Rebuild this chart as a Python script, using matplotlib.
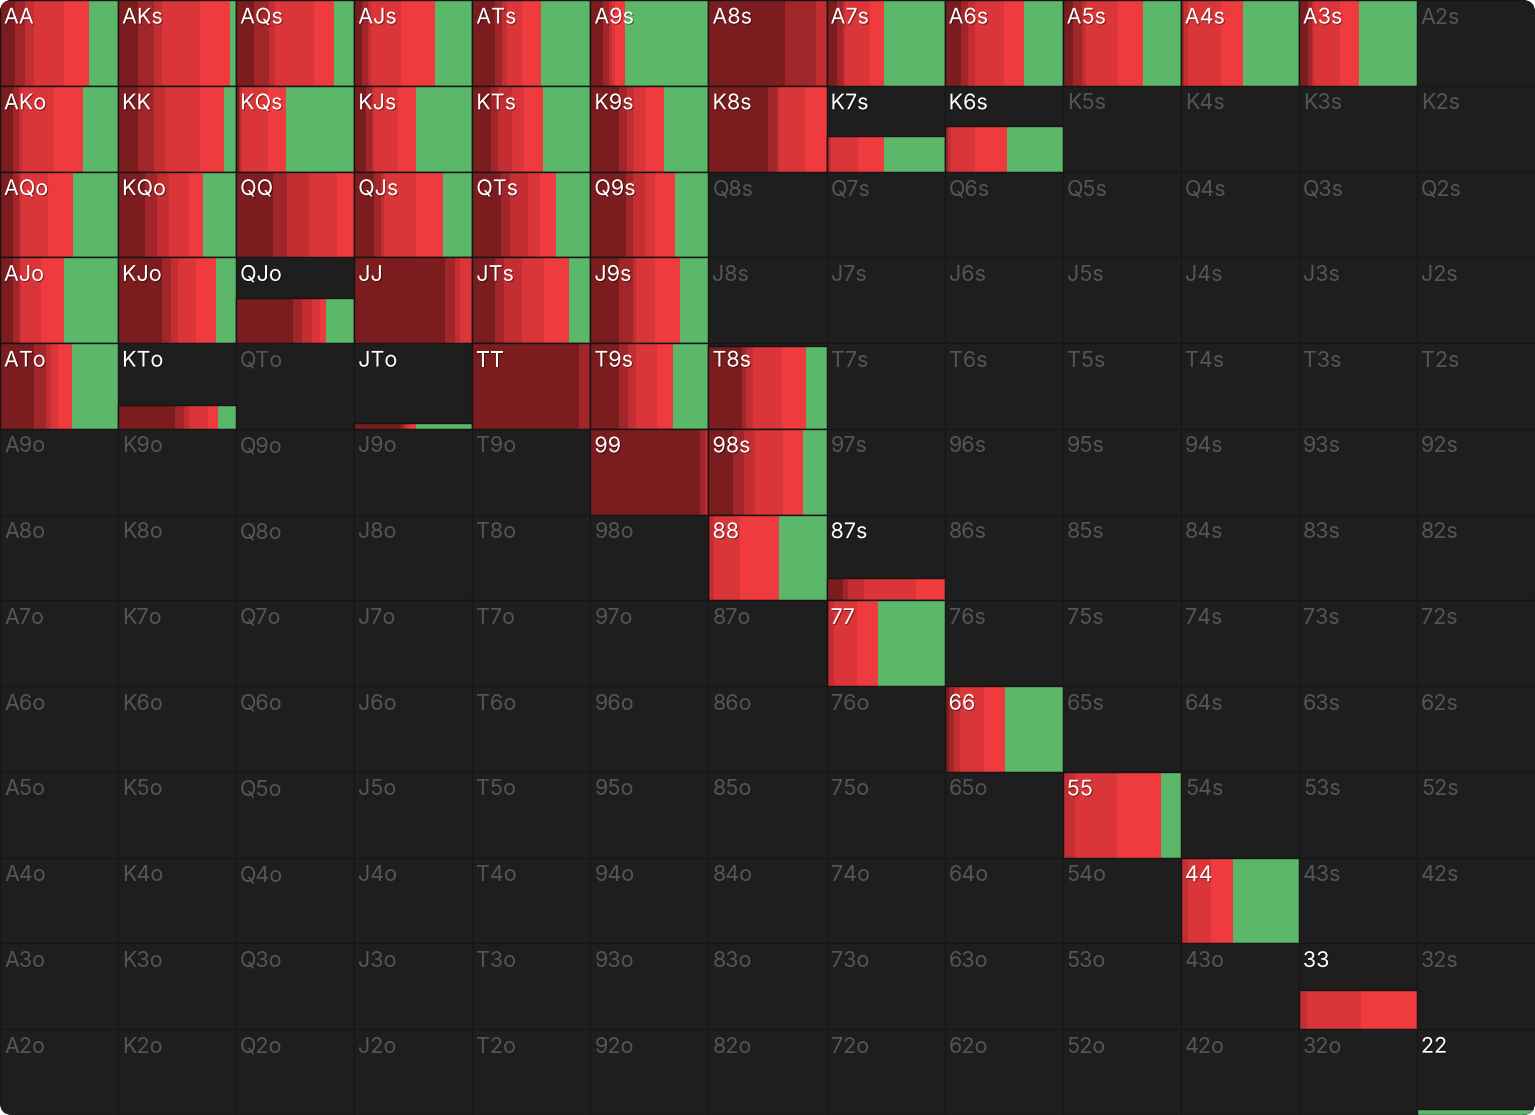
import numpy as np
import matplotlib.pyplot as plt
from matplotlib.patches import Rectangle, FancyBboxPatch
import matplotlib.patheffects as pe

# rangos
ranks = "AKQJT98765432"

# manos jugadas, frecuencia (altura) y reparto de acciones (izq -> der)
hands = ["AA", "AKs", "AQs", "AJs", "ATs", "A9s", "A8s", "A7s", "A6s", "A5s", "A4s", "A3s",
         "AKo", "KK", "KQs", "KJs", "KTs", "K9s", "K8s", "K7s", "K6s",
         "AQo", "KQo", "QQ", "QJs", "QTs", "Q9s",
         "AJo", "KJo", "QJo", "JJ", "JTs", "J9s",
         "ATo", "KTo", "JTo", "TT", "T9s", "T8s",
         "99", "98s", "88", "87s", "77", "66", "55", "44", "33", "22"]
freq = [1, 1, 1, 1, 1, 1, 1, 1, 1, 1, 1, 1,
        1, 1, 1, 1, 1, 1, 1, 0.41, 0.53,
        1, 1, 1, 1, 1, 1,
        1, 1, 0.53, 1, 1, 1,
        1, 0.28, 0.07, 1, 1, 0.97,
        1, 1, 1, 0.26, 1, 1, 1, 1, 0.46, 0.07]
allin = [0.13, 0.17, 0.15, 0.07, 0.19, 0.11, 0.65, 0.09, 0.14, 0.09, 0.01, 0.08,
         0.11, 0.17, 0.02, 0.10, 0.16, 0.24, 0.50, 0.00, 0.01,
         0.11, 0.23, 0.31, 0.17, 0.24, 0.30,
         0.11, 0.37, 0.48, 0.77, 0.19, 0.24,
         0.29, 0.48, 0.40, 0.90, 0.24, 0.28,
         0.93, 0.21, 0.00, 0.14, 0.00, 0.04, 0.00, 0.00, 0.00, 0.00]
raise4 = [0.08, 0.13, 0.13, 0.05, 0.06, 0.05, 0.26, 0.05, 0.06, 0.07, 0.02, 0.03,
          0.05, 0.13, 0.01, 0.05, 0.06, 0.07, 0.08, 0.02, 0.02,
          0.05, 0.10, 0.12, 0.06, 0.08, 0.06,
          0.05, 0.08, 0.08, 0.08, 0.08, 0.12,
          0.10, 0.08, 0.02, 0.10, 0.08, 0.04,
          0.04, 0.09, 0.01, 0.04, 0.02, 0.04, 0.01, 0.01, 0.00, 0.00]
raise3 = [0.08, 0.07, 0.05, 0.02, 0.04, 0.02, 0.09, 0.02, 0.06, 0.04, 0.03, 0.02,
          0.03, 0.10, 0.02, 0.02, 0.12, 0.06, 0.02, 0.02, 0.02,
          0.02, 0.10, 0.19, 0.02, 0.15, 0.10,
          0.02, 0.06, 0.08, 0.05, 0.15, 0.03,
          0.04, 0.04, 0.03, 0.00, 0.07, 0.06,
          0.03, 0.09, 0.04, 0.14, 0.04, 0.05, 0.09, 0.05, 0.07, 0.00]
raise2 = [0.25, 0.32, 0.33, 0.26, 0.13, 0.03, 0.00, 0.21, 0.24, 0.27, 0.28, 0.22,
          0.27, 0.29, 0.22, 0.20, 0.10, 0.10, 0.22, 0.23, 0.21,
          0.23, 0.17, 0.23, 0.27, 0.10, 0.09,
          0.17, 0.15, 0.07, 0.10, 0.19, 0.16,
          0.06, 0.16, 0.02, 0.00, 0.17, 0.24,
          0.00, 0.24, 0.22, 0.44, 0.20, 0.20, 0.36, 0.20, 0.46, 0.00]
raise1 = [0.21, 0.26, 0.17, 0.28, 0.16, 0.08, 0.00, 0.12, 0.17, 0.21, 0.19, 0.16,
          0.24, 0.21, 0.15, 0.15, 0.16, 0.15, 0.18, 0.22, 0.27,
          0.21, 0.12, 0.15, 0.23, 0.14, 0.17,
          0.19, 0.17, 0.05, 0.00, 0.21, 0.21,
          0.12, 0.09, 0.05, 0.00, 0.14, 0.21,
          0.00, 0.17, 0.33, 0.24, 0.18, 0.18, 0.37, 0.18, 0.47, 0.00]
call = [0.25, 0.05, 0.17, 0.32, 0.42, 0.71, 0.00, 0.51, 0.33, 0.32, 0.47, 0.49,
        0.30, 0.10, 0.58, 0.48, 0.40, 0.38, 0.00, 0.51, 0.47,
        0.38, 0.28, 0.00, 0.25, 0.29, 0.28,
        0.46, 0.17, 0.24, 0.00, 0.18, 0.24,
        0.39, 0.15, 0.48, 0.00, 0.30, 0.17,
        0.00, 0.20, 0.40, 0.00, 0.56, 0.49, 0.17, 0.56, 0.00, 1.00]

colores = ["#7b1c1f", "#a0262a", "#c32e33", "#da3538", "#ef3a3e", "#5bb86a"]

W_img, H_img = 1535, 1115
cw, ch = W_img / 13, H_img / 13

fig = plt.figure(figsize=(15.35, 11.15), dpi=100, facecolor="white")
ax = fig.add_axes([0, 0, 1, 1])
ax.set_xlim(0, W_img)
ax.set_ylim(H_img, 0)
ax.axis("off")

# panel con esquinas redondeadas
panel = FancyBboxPatch((0, 0), W_img, H_img, boxstyle="round,pad=0,rounding_size=13",
                       facecolor="#1e1e1e", edgecolor="none")
ax.add_patch(panel)

acciones = np.array([allin, raise4, raise3, raise2, raise1, call])
datos = {h: (freq[k], acciones[:, k]) for k, h in enumerate(hands)}

sombra = [pe.withSimplePatchShadow(offset=(0.8, -0.8), shadow_rgbFace="black", alpha=0.4)]

for i in range(13):
    for j in range(13):
        if i == j:
            mano = ranks[i] * 2
        elif j > i:
            mano = ranks[i] + ranks[j] + "s"
        else:
            mano = ranks[j] + ranks[i] + "o"
        x0, y0 = j * cw, i * ch
        r = Rectangle((x0, y0), cw, ch, facecolor="#1e1e1e", edgecolor="#161616", lw=0.8)
        ax.add_patch(r)
        r.set_clip_path(panel)
        activa = mano in datos
        if activa:
            f, fr = datos[mano]
            fr = fr / fr.sum()
            h = f * ch
            yb = y0 + ch - h
            x = x0
            for c, w in zip(colores, fr):
                if w <= 0:
                    continue
                seg = Rectangle((x, yb), w * cw, h, facecolor=c, edgecolor="none", lw=0)
                ax.add_patch(seg)
                seg.set_clip_path(panel)
                x += w * cw
            borde = Rectangle((x0, yb), cw, h, facecolor="none", edgecolor="#141414", lw=1.0)
            ax.add_patch(borde)
            borde.set_clip_path(panel)
        t = ax.text(x0 + 4, y0 + 23.5, mano, fontsize=15.5, family=["Inter", "DejaVu Sans"],
                    color="white" if activa else "#555555", va="baseline", ha="left")
        if activa:
            t.set_path_effects(sombra)

plt.savefig("out.png", dpi=100, facecolor="white")
